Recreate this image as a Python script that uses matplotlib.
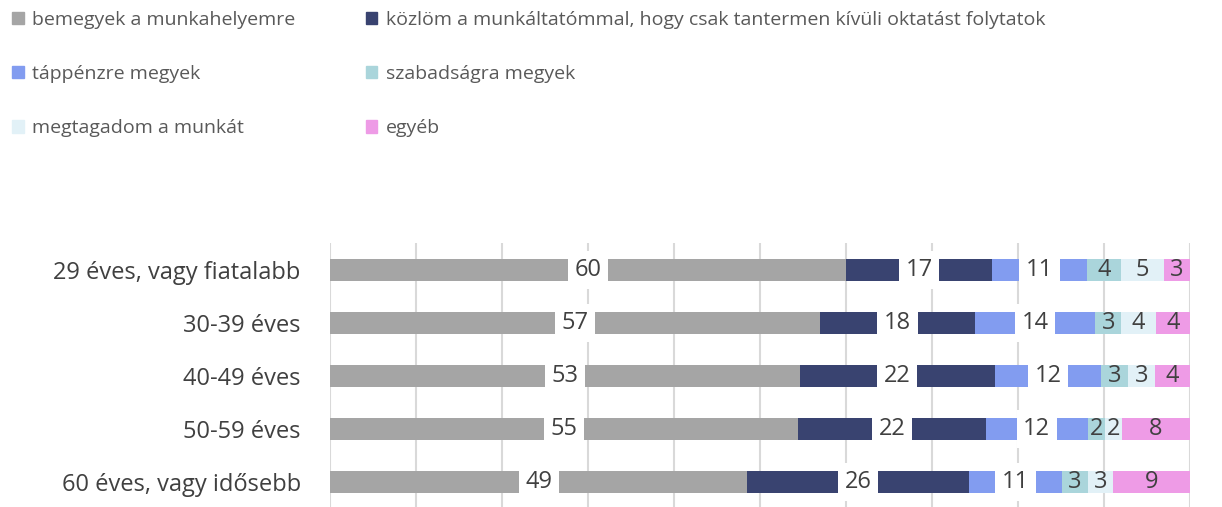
import numpy as np
import matplotlib.pyplot as plt
from matplotlib.patches import Patch

plt.rcParams['font.family'] = ['Open Sans', 'DejaVu Sans']

# age groups (top to bottom)
groups = ['29 éves, vagy fiatalabb', '30-39 éves', '40-49 éves', '50-59 éves', '60 éves, vagy idősebb']

# answer categories
answers = ['bemegyek a munkahelyemre',
           'közlöm a munkáltatómmal, hogy csak tantermen kívüli oktatást folytatok',
           'táppénzre megyek',
           'szabadságra megyek',
           'megtagadom a munkát',
           'egyéb']

# percentages per answer, one value per age group
bemegyek = [60, 57, 53, 55, 49]
kozlom = [17, 18, 22, 22, 26]
tappenz = [11, 14, 12, 12, 11]
szabadsag = [4, 3, 3, 2, 3]
megtagad = [5, 4, 3, 2, 3]
egyeb = [3, 4, 4, 8, 9]

colors = ['#A5A5A5', '#394370', '#829CF0', '#AAD5DB', '#E2F1F7', '#EE9BE6']

series = np.array([bemegyek, kozlom, tappenz, szabadsag, megtagad, egyeb], dtype=float)
shares = series / series.sum(axis=0) * 100  # 100% stacked

fig = plt.figure(figsize=(12.22, 5.07), dpi=100)
ax = fig.add_axes([330 / 1222, 0, 860 / 1222, 264 / 507])

y = np.arange(len(groups))
left = np.zeros(len(groups))
for i, (name, col) in enumerate(zip(answers, colors)):
    ax.barh(y, shares[i], left=left, height=0.415, color=col, zorder=2)
    for j in range(len(groups)):
        cx = left[j] + shares[i][j] / 2
        if i < 3:
            ax.text(cx, y[j], f'{int(series[i][j])}', ha='center', va='center',
                    fontsize=17, color='#404040', zorder=4,
                    bbox=dict(boxstyle='square,pad=0.28', fc='white', ec='none'))
        else:
            ax.text(cx, y[j], f'{int(series[i][j])}', ha='center', va='center',
                    fontsize=17, color='#404040', zorder=4)
    left += shares[i]

ax.set_xlim(0, 100)
ax.set_ylim(4.47, -0.51)
ax.set_xticks(np.arange(0, 101, 10))
ax.set_xticklabels([])
ax.tick_params(axis='both', length=0)
ax.set_yticks(y)
ax.set_yticklabels(groups, fontsize=17, color='#404040')
ax.tick_params(axis='y', pad=21)
ax.grid(axis='x', color='#D9D9D9', linewidth=1.5, zorder=0)
for s in ax.spines.values():
    s.set_visible(False)

handles = [Patch(color=c) for c in colors]
order = [0, 2, 4, 1, 3, 5]
fig.legend([handles[k] for k in order], [answers[k] for k in order], ncol=2,
           loc='upper left', bbox_to_anchor=(0.005, 0.99), frameon=False,
           borderaxespad=0, borderpad=0.3,
           fontsize=14, labelcolor='#595959', handlelength=0.6, handleheight=0.6,
           handletextpad=0.45, columnspacing=3.6, labelspacing=1.86)

plt.savefig('out.png', dpi=100)
